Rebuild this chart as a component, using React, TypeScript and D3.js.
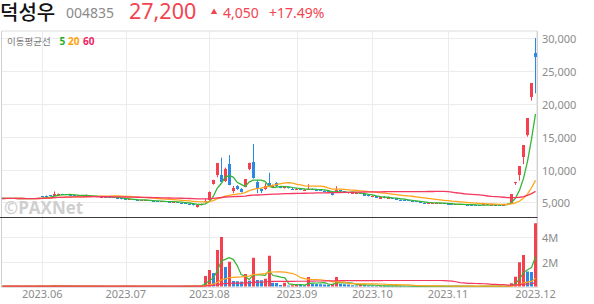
import React from 'react';
import * as d3 from 'd3';

// ---------- data ----------
const START = '2023-05-17';
const END = '2023-12-01';
const HOLIDAYS = ['2023-05-29', '2023-06-06', '2023-08-15', '2023-09-28', '2023-09-29', '2023-10-02', '2023-10-03', '2023-10-09'];

const opens = [
  5650, 5580, 5620, 5550, 5600, 5530, 5580, 5540, 5590, 5560,
  5900, 5980, 6050, 5950, 6150, 6280, 6200, 6150, 6100, 6050,
  6060, 6020, 6000, 5980, 5900, 5780, 5850, 5800, 5750, 5700,
  5600, 5450, 5380, 5450, 5350, 5250, 5300, 5350, 5200, 5150,
  5100, 5150, 5080, 5000, 5060, 4950, 4880, 4800, 4720, 4300,
  4550, 5000, 5300, 7800, 9200, 9200, 8200, 10900, 6700, 7450,
  7050, 7400, 10100, 11100, 8100, 7000, 7100, 7900, 7300, 7900,
  7350, 7150, 7300, 7100, 6950, 7050, 6850, 6950, 7050, 6950,
  6880, 6780, 6700, 6450, 6550, 6800, 6650, 6500, 6320, 6380,
  6450, 6200, 6050, 5850, 5950, 5550, 5800, 5600, 5700, 5600,
  5400, 5350, 5300, 5250, 5200, 5050, 4950, 4800, 4820, 4850,
  4830, 4880, 4800, 4700, 4600, 4650, 4700, 4650, 4620, 4600,
  4580, 4600, 4680, 4580, 4650, 4620, 4580, 4650, 4850, 7950,
  9200, 11950, 15300, 21000, 27800,
];
const highs = [
  5700, 5650, 5640, 5620, 5610, 5600, 5620, 5600, 5620, 5700,
  5950, 6050, 6100, 6650, 6350, 6300, 6250, 6180, 6150, 6100,
  6100, 6200, 6050, 6000, 5920, 5880, 5870, 5830, 5780, 5720,
  5620, 5480, 5470, 5460, 5380, 5340, 5380, 5360, 5220, 5170,
  5170, 5160, 5100, 5080, 5070, 4970, 4900, 4820, 4740, 4560,
  4800, 5500, 6650, 8450, 10980, 11800, 10300, 12200, 7500, 7600,
  7150, 8550, 11050, 13900, 8400, 7100, 7900, 9500, 7700, 8100,
  7450, 7350, 7320, 7200, 7150, 7100, 7000, 7750, 7100, 6980,
  6900, 6800, 6720, 6500, 7450, 6850, 6680, 6520, 6480, 6480,
  6460, 6220, 6080, 6050, 5980, 5850, 5950, 5750, 5720, 5620,
  5420, 5380, 5320, 5270, 5210, 5060, 4970, 4900, 4920, 4920,
  4900, 4890, 4820, 4720, 4700, 4720, 4710, 4660, 4640, 4610,
  4590, 4900, 4700, 4680, 4660, 4640, 4680, 4850, 6240, 8110,
  10540, 13700, 17800, 23150, 30050,
];
const lows = [
  5550, 5530, 5520, 5520, 5500, 5500, 5520, 5500, 5540, 5540,
  5750, 5880, 5950, 5900, 6100, 6120, 6080, 6050, 6020, 6000,
  5990, 5980, 5950, 5880, 5780, 5760, 5780, 5720, 5680, 5580,
  5430, 5380, 5350, 5330, 5280, 5230, 5280, 5180, 5130, 5100,
  5080, 5060, 5030, 4980, 4980, 4870, 4780, 4700, 4500, 4200,
  4520, 4980, 5250, 7700, 8800, 8100, 8100, 7600, 6400, 6900,
  6500, 7300, 9900, 8600, 6400, 6400, 6900, 7300, 7200, 7350,
  7150, 7100, 7100, 6950, 6900, 6850, 6800, 6900, 6880, 6820,
  6750, 6650, 6500, 6050, 6450, 6600, 6430, 6320, 6300, 6350,
  6280, 5980, 5880, 5800, 5680, 5500, 5600, 5550, 5580, 5380,
  5330, 5280, 5230, 5180, 5030, 4930, 4880, 4780, 4800, 4830,
  4800, 4780, 4680, 4600, 4580, 4630, 4620, 4580, 4540, 4520,
  4500, 4550, 4580, 4560, 4580, 4560, 4560, 4620, 4800, 7650,
  8300, 10800, 15000, 20500, 21600,
];
const closes = [
  5580, 5620, 5550, 5600, 5530, 5580, 5540, 5590, 5560, 5650,
  5800, 5920, 5980, 6300, 6280, 6150, 6120, 6080, 6050, 6060,
  6020, 6000, 5980, 5900, 5800, 5850, 5800, 5750, 5700, 5600,
  5450, 5400, 5450, 5350, 5300, 5320, 5350, 5200, 5150, 5120,
  5150, 5080, 5050, 5060, 5000, 4880, 4800, 4720, 4550, 4520,
  4750, 5250, 6500, 8450, 10950, 8150, 10150, 7700, 7250, 7000,
  6600, 8500, 11050, 8700, 7000, 6650, 7550, 7400, 7600, 7450,
  7200, 7300, 7150, 7050, 7080, 6900, 6950, 7100, 6950, 6880,
  6780, 6700, 6550, 6100, 6950, 6650, 6450, 6350, 6450, 6460,
  6300, 6000, 5900, 6000, 5700, 5800, 5650, 5700, 5600, 5400,
  5350, 5300, 5250, 5200, 5050, 4950, 4900, 4880, 4900, 4900,
  4880, 4800, 4700, 4620, 4680, 4700, 4650, 4600, 4560, 4550,
  4520, 4680, 4600, 4650, 4600, 4580, 4650, 4800, 6240, 8110,
  10540, 13700, 17800, 23150, 27200,
];
// volume, millions of shares
const volumes = [
  0.03, 0.02, 0.02, 0.03, 0.02, 0.02, 0.03, 0.02, 0.02, 0.04,
  0.05, 0.04, 0.03, 0.12, 0.05, 0.03, 0.03, 0.02, 0.02, 0.03,
  0.02, 0.04, 0.02, 0.02, 0.03, 0.02, 0.02, 0.02, 0.02, 0.03,
  0.03, 0.02, 0.02, 0.02, 0.02, 0.03, 0.02, 0.02, 0.02, 0.02,
  0.02, 0.02, 0.02, 0.02, 0.02, 0.03, 0.04, 0.03, 0.03, 0.06,
  0.08, 0.84, 1.32, 1.08, 2.92, 3.96, 1.56, 1.98, 0.44, 0.42,
  0.39, 1.0, 0.46, 2.3, 0.52, 0.5, 0.62, 2.46, 0.3, 0.28,
  0.12, 0.3, 0.07, 0.1, 0.18, 0.12, 0.1, 0.76, 0.22, 0.2,
  0.18, 0.16, 0.14, 0.2, 0.76, 0.2, 0.18, 0.16, 0.1, 0.08,
  0.2, 0.12, 0.06, 0.06, 0.05, 0.06, 0.05, 0.04, 0.04, 0.05,
  0.04, 0.03, 0.03, 0.03, 0.04, 0.04, 0.03, 0.04, 0.03, 0.03,
  0.03, 0.03, 0.03, 0.03, 0.03, 0.03, 0.02, 0.02, 0.02, 0.02,
  0.02, 0.04, 0.02, 0.02, 0.02, 0.02, 0.03, 0.06, 0.26, 0.78,
  1.94, 2.52, 1.2, 1.16, 5.06,
];

const priceTicks = [5000, 10000, 15000, 20000, 25000, 30000];
const volumeTicks = [2, 4];
const volumeTickLabels = ['2M', '4M'];
const maPeriods = [5, 20, 60];

const header = { name: '덕성우', code: '004835', price: '27,200', change: '4,050', rate: '+17.49%' };
const legendTitle = '이동평균선';

// ---------- style ----------
const RED = '#f5404d';
const BLUE = '#2b89e6';
const MA_COLORS = ['#35b535', '#ffa31a', '#f5385f'];
const LEGEND_COLORS = ['#1fae1f', '#ff9f0a', '#ee1f5f'];
const GRID = '#ececec';
const TEXT_GRAY = '#8c8c8c';

function tradingDays(): string[] {
  const out: string[] = [];
  const d = new Date(START + 'T00:00:00Z');
  const end = new Date(END + 'T00:00:00Z');
  while (d <= end) {
    const dow = d.getUTCDay();
    const s = d.toISOString().slice(0, 10);
    if (dow !== 0 && dow !== 6 && !HOLIDAYS.includes(s)) out.push(s);
    d.setUTCDate(d.getUTCDate() + 1);
  }
  return out;
}

function movingAvg(arr: number[], n: number): number[] {
  return arr.map((_, i) => d3.mean(arr.slice(Math.max(0, i - n + 1), i + 1)) as number);
}

export default function App() {
  const dates = tradingDays().slice(0, closes.length);
  const PL = 1.5, PR = 537.5;
  const PT = 31, PB = 217.5, VB = 287.5;

  const x = d3.scaleBand<string>().domain(dates).range([0.5, 537.5]);
  const bw = x.bandwidth();
  const cx = (d: string) => (x(d) as number) + bw / 2;
  const yP = d3.scaleLinear().domain([5000, 30000]).range([202.3, 38.3]);
  const yV = d3.scaleLinear().domain([0, 4]).range([286.5, 236.5]);
  const fmt = d3.format(',');

  const monthStarts = dates
    .map((d, i) => ({ d, i }))
    .filter(({ d, i }) => i > 0 && d.slice(5, 7) !== dates[i - 1].slice(5, 7));

  const priceMAs = maPeriods.map((n) => movingAvg(closes, n));
  const volMAs = maPeriods.map((n) => movingAvg(volumes, n));

  const priceLine = d3.line<number>().x((_, i) => cx(dates[i])).y((v) => yP(v));
  const volLine = d3.line<number>().x((_, i) => cx(dates[i])).y((v) => yV(v));

  const cw = 3;
  const font = "'Noto Sans', 'Noto Sans CJK KR', sans-serif";
  const kfont = "'Noto Sans CJK KR', 'Noto Sans', sans-serif";

  return (
    <svg width={594} height={304} style={{ position: 'absolute', left: 0, top: 0, background: '#fff' }} fontFamily={font}>
      <defs>
        <clipPath id="pclip"><rect x={PL} y={PT} width={PR - PL} height={PB - PT - 0.5} /></clipPath>
        <clipPath id="vclip"><rect x={PL} y={PB} width={PR - PL} height={VB - PB} /></clipPath>
      </defs>

      {/* header */}
      <text x={0} y={19.5} fontSize={20} fontFamily={kfont} fontWeight={500} fill="#111">{header.name}</text>
      <text x={66} y={17.5} fontSize={14} fill="#8a8a8a">{header.code}</text>
      <text x={129} y={19} fontSize={21.5} fill="#f2434f">{header.price}</text>
      <polygon points="210.8,14 214,8.6 217.2,14" fill="#f2434f" />
      <text x={223} y={17.5} fontSize={14} fill="#f2434f">{header.change}</text>
      <text x={269} y={17.5} fontSize={14} fill="#f2434f">{header.rate}</text>

      {/* grid */}
      {priceTicks.map((t) => (
        <line key={'pg' + t} x1={PL} x2={PR} y1={Math.round(yP(t)) + 0.5} y2={Math.round(yP(t)) + 0.5} stroke={GRID} />
      ))}
      {volumeTicks.map((t) => (
        <line key={'vg' + t} x1={PL} x2={PR} y1={Math.round(yV(t)) + 0.5} y2={Math.round(yV(t)) + 0.5} stroke={GRID} />
      ))}
      {monthStarts.map(({ d }) => (
        <line key={'mg' + d} x1={Math.round(cx(d)) + 0.5} x2={Math.round(cx(d)) + 0.5} y1={PT} y2={VB} stroke={GRID} />
      ))}
      <line x1={PL} x2={PR} y1={PT} y2={PT} stroke="#dcdcdc" />
      <line x1={PL} x2={PL} y1={PT} y2={VB} stroke="#d0d0d0" />
      <line x1={PR} x2={PR} y1={PT} y2={VB} stroke="#d0d0d0" />
      <line x1={PL} x2={PR} y1={VB} y2={VB} stroke="#e0e0e0" />

      {/* legend */}
      <text x={7} y={44.5} fontSize={9.5} fontFamily={kfont} fill="#7a7a7a">{legendTitle}</text>
      {maPeriods.map((n, i) => (
        <text key={'lg' + n} x={[59.5, 68, 83][i]} y={44.5} fontSize={10} fontWeight={700} fill={LEGEND_COLORS[i]}>{n}</text>
      ))}

      {/* watermark */}
      <text x={4} y={214} fontSize={17} fontWeight={700} fill="#cfcfcf" fontFamily="'Open Sans', sans-serif">©PAXNet</text>

      {/* candles */}
      <g clipPath="url(#pclip)">
        {dates.map((d, i) => {
          const o = opens[i], c = closes[i], h = highs[i], l = lows[i];
          const up = c >= o;
          const col = up ? RED : BLUE;
          const left = Math.round(cx(d) - cw / 2);
          const top = Math.round(yP(Math.max(o, c)));
          const bot = Math.round(yP(Math.min(o, c)));
          return (
            <g key={'c' + d}>
              <line x1={left + 1.5} x2={left + 1.5} y1={yP(h)} y2={yP(l)} stroke={col} strokeWidth={1} />
              <rect x={left} y={top} width={cw} height={Math.max(1, bot - top)} fill={col} />
            </g>
          );
        })}
        {priceMAs.map((m, k) => (
          <path key={'pm' + k} d={priceLine(m) as string} fill="none" stroke={MA_COLORS[k]} strokeWidth={1.3} />
        ))}
      </g>

      {/* separator */}
      <line x1={0} x2={PR} y1={PB} y2={PB} stroke="#3a3a3a" strokeWidth={1} />

      {/* volume */}
      <g clipPath="url(#vclip)">
        {dates.map((d, i) => {
          const v = volumes[i];
          const col = i === 0 || v > volumes[i - 1] ? RED : BLUE;
          const left = Math.round(cx(d) - cw / 2);
          const top = yV(v);
          return <rect key={'v' + d} x={left} y={top} width={cw} height={Math.max(0, yV(0) - top)} fill={col} />;
        })}
        {volMAs.map((m, k) => (
          <path key={'vm' + k} d={volLine(m) as string} fill="none" stroke={MA_COLORS[k]} strokeWidth={1.2} />
        ))}
      </g>

      {/* right axis */}
      {priceTicks.map((t) => (
        <text key={'pt' + t} x={542} y={yP(t) + 5} fontSize={11} fill={TEXT_GRAY}>{fmt(t)}</text>
      ))}
      {volumeTicks.map((t, i) => (
        <text key={'vt' + t} x={542} y={yV(t) + 5} fontSize={11} fill={TEXT_GRAY}>{volumeTickLabels[i]}</text>
      ))}

      {/* x axis */}
      {monthStarts.map(({ d }) => (
        <text key={'xt' + d} x={cx(d)} y={297.5} fontSize={11} textAnchor="middle" fill={TEXT_GRAY}>
          {d.slice(0, 4) + '.' + d.slice(5, 7)}
        </text>
      ))}
    </svg>
  );
}
